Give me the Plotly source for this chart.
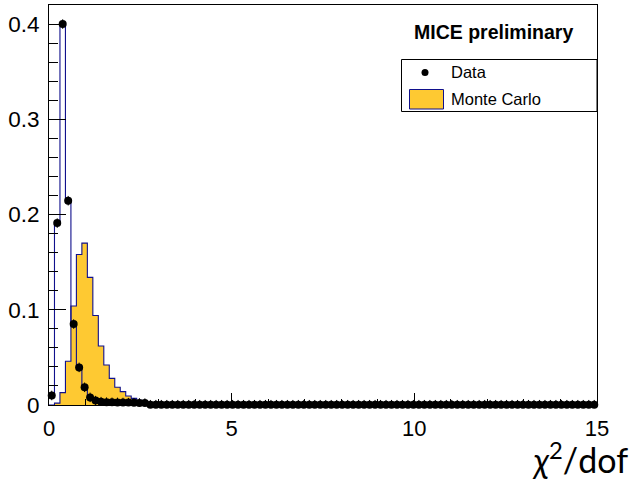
import plotly.graph_objects as go

# ---------------- data ----------------
bin_width = 0.15
n_bins = 100

data_values = [
    0.010, 0.191, 0.400, 0.2145, 0.085, 0.0395, 0.0186, 0.008, 0.0046, 0.0035,
    0.0030, 0.0028, 0.0027, 0.0026, 0.0025, 0.0024, 0.0022, 0.0020, 0.0003, 0.0003,
    0.0003, 0.0003, 0.0003, 0.0003, 0.0003, 0.0003, 0.0003, 0.0003, 0.0003, 0.0003,
    0.0003, 0.0003, 0.0003, 0.0003, 0.0003, 0.0003, 0.0003, 0.0003, 0.0003, 0.0003,
    0.0003, 0.0003, 0.0003, 0.0003, 0.0003, 0.0003, 0.0003, 0.0003, 0.0003, 0.0003,
    0.0003, 0.0003, 0.0003, 0.0003, 0.0003, 0.0003, 0.0003, 0.0003, 0.0003, 0.0003,
    0.0003, 0.0003, 0.0003, 0.0003, 0.0003, 0.0003, 0.0003, 0.0003, 0.0003, 0.0003,
    0.0003, 0.0003, 0.0003, 0.0003, 0.0003, 0.0003, 0.0003, 0.0003, 0.0003, 0.0003,
    0.0003, 0.0003, 0.0003, 0.0003, 0.0003, 0.0003, 0.0003, 0.0003, 0.0003, 0.0003,
    0.0003, 0.0003, 0.0003, 0.0003, 0.0003, 0.0003, 0.0003, 0.0003, 0.0003, 0.0003,
]
data_error = 0.005

mc_values = [
    0.0, 0.002, 0.013, 0.046, 0.104, 0.158, 0.170, 0.134, 0.094, 0.062,
    0.042, 0.028, 0.0186, 0.014, 0.0095, 0.007, 0.005, 0.0035, 0.0025, 0.0018,
    0.0012, 0.0008, 0.0005, 0.0003, 0.0002, 0.0001, 0.0, 0.0, 0.0, 0.0,
    0.0, 0.0, 0.0, 0.0, 0.0, 0.0, 0.0, 0.0, 0.0, 0.0,
    0.0, 0.0, 0.0, 0.0, 0.0, 0.0, 0.0, 0.0, 0.0, 0.0,
    0.0, 0.0, 0.0, 0.0, 0.0, 0.0, 0.0, 0.0, 0.0, 0.0,
    0.0, 0.0, 0.0, 0.0, 0.0, 0.0, 0.0, 0.0, 0.0, 0.0,
    0.0, 0.0, 0.0, 0.0, 0.0, 0.0, 0.0, 0.0, 0.0, 0.0,
    0.0, 0.0, 0.0, 0.0, 0.0, 0.0, 0.0, 0.0, 0.0, 0.0,
    0.0, 0.0, 0.0, 0.0, 0.0, 0.0, 0.0, 0.0, 0.0, 0.0,
]

x_tick_vals = [0, 5, 10, 15]
x_tick_text = ["0", "5", "10", "15"]
y_tick_vals = [0, 0.1, 0.2, 0.3, 0.4]
y_tick_text = ["0", "0.1", "0.2", "0.3", "0.4"]

title_text = "<b>MICE preliminary</b>"
legend_labels = ["Data", "Monte Carlo"]
x_title = "<i>χ</i><sup>2</sup>/dof"

# ---------------- derived bin geometry ----------------
edges = [round(i * bin_width, 6) for i in range(n_bins + 1)]
centers = [round((i + 0.5) * bin_width, 6) for i in range(n_bins)]

OUTLINE = "#10108c"
FILL = "#fec932"
FONT = "Liberation Sans"

W, H = 637, 480
ML, MR, MT, MB = 49, 40, 5, 75
PW, PH = W - ML - MR, H - MT - MB


def px(xp):
    return (xp - ML) / PW


def py(yp):
    return (H - MB - yp) / PH


fig = go.Figure()

# Monte Carlo filled histogram
fig.add_trace(go.Scatter(
    x=edges, y=mc_values + [mc_values[-1]],
    mode="lines", line=dict(shape="hv", color=OUTLINE, width=1.1),
    fill="tozeroy", fillcolor=FILL, showlegend=False, hoverinfo="skip",
))

# Data outline histogram
fig.add_trace(go.Scatter(
    x=edges, y=data_values + [data_values[-1]],
    mode="lines", line=dict(shape="hv", color=OUTLINE, width=1.1),
    showlegend=False, hoverinfo="skip",
))

# Data points
fig.add_trace(go.Scatter(
    x=centers, y=data_values, mode="markers",
    marker=dict(color="black", size=8),
    error_y=dict(type="constant", value=data_error, thickness=1, width=0, color="black"),
    cliponaxis=False, showlegend=False,
))

fig.update_layout(
    width=W, height=H,
    margin=dict(l=ML, r=MR, t=MT, b=MB, pad=0),
    paper_bgcolor="white", plot_bgcolor="white",
    font=dict(family=FONT, color="black"),
    xaxis=dict(
        range=[0, 15], tickmode="array", tickvals=x_tick_vals, ticktext=x_tick_text,
        ticks="inside", ticklen=12, tickwidth=1, tickcolor="black",
        minor=dict(dtick=1, tick0=0, ticks="inside", ticklen=6, tickcolor="black", tickwidth=1),
        showline=True, linecolor="black", linewidth=1, mirror=True,
        showgrid=False, zeroline=False,
        tickfont=dict(size=22, family=FONT), ticklabelstandoff=4,
    ),
    yaxis=dict(
        range=[0, 0.42], tickmode="array", tickvals=y_tick_vals, ticktext=y_tick_text,
        ticks="inside", ticklen=17, tickwidth=1, tickcolor="black",
        minor=dict(dtick=0.02, tick0=0, ticks="inside", ticklen=9, tickcolor="black", tickwidth=1),
        showline=True, linecolor="black", linewidth=1, mirror=True,
        showgrid=False, zeroline=False,
        tickfont=dict(size=22.5, family=FONT), ticklabelstandoff=4,
    ),
)

# Title text
fig.add_annotation(
    x=px(493.5), y=py(32), xref="paper", yref="paper", text=title_text,
    showarrow=False, xanchor="center", yanchor="middle",
    font=dict(size=19.5, family=FONT, color="black"),
)

# Legend box
fig.add_shape(type="rect", xref="paper", yref="paper",
              x0=px(401.5), x1=px(597), y0=py(111.5), y1=py(59.5),
              line=dict(color="black", width=1), fillcolor="white", layer="above")
# Data legend marker
fig.add_shape(type="circle", xref="paper", yref="paper",
              x0=px(421.5), x1=px(428.5), y0=py(76), y1=py(69),
              line=dict(color="black", width=0), fillcolor="black", layer="above")
# MC legend box
fig.add_shape(type="rect", xref="paper", yref="paper",
              x0=px(409.5), x1=px(443.5), y0=py(109), y1=py(89.5),
              line=dict(color=OUTLINE, width=1), fillcolor=FILL, layer="above")
fig.add_annotation(
    x=px(449), y=py(72.5), xref="paper", yref="paper", text=legend_labels[0],
    showarrow=False, xanchor="left", yanchor="middle",
    font=dict(size=16.5, family=FONT, color="black"),
)
fig.add_annotation(
    x=px(449), y=py(98.5), xref="paper", yref="paper", text=legend_labels[1],
    showarrow=False, xanchor="left", yanchor="middle",
    font=dict(size=16.5, family=FONT, color="black"),
)

# x-axis title
fig.add_annotation(
    x=px(580), y=py(458), xref="paper", yref="paper", text=x_title,
    showarrow=False, xanchor="center", yanchor="middle",
    font=dict(size=34, family="Lato", color="black"),
)

fig.write_html("out.html", config={"displayModeBar": False},
               post_script="document.body.style.margin='0';")
